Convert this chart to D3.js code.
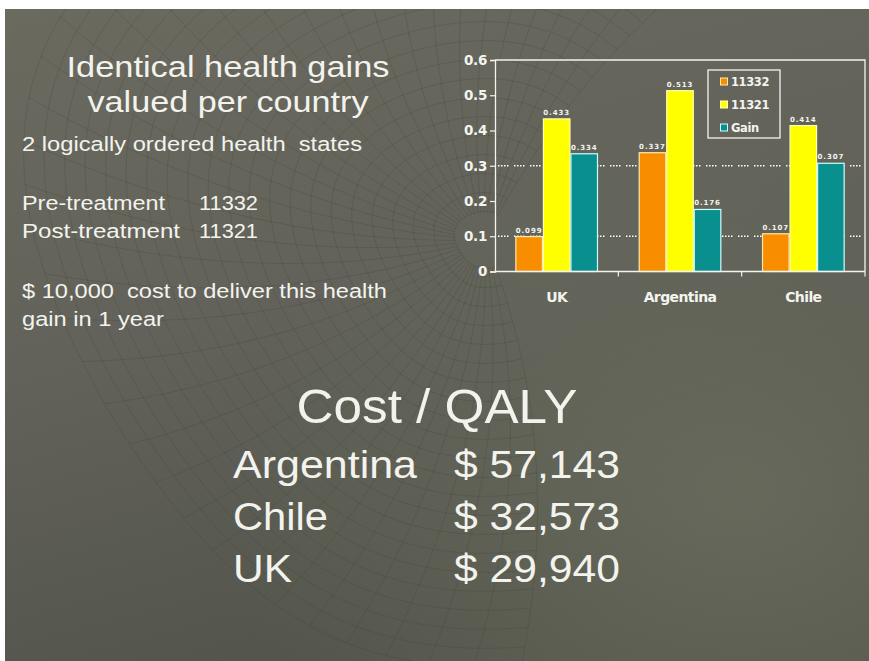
<!DOCTYPE html>
<html>
<head>
<meta charset="utf-8">
<script src="https://cdn.jsdelivr.net/npm/d3@7/dist/d3.min.js"></script>
<style>
  html, body { margin: 0; padding: 0; background: #ffffff; }
  svg { display: block; }
  .slide-text { fill: #f3f3ee; font-family: "Liberation Sans", Arial, sans-serif; }
  .chart-text { fill: #f4f4ee; font-family: "DejaVu Sans", Verdana, sans-serif; font-weight: bold; }
</style>
</head>
<body>
<script>
// ---- data ----
const countries = ["UK", "Argentina", "Chile"];
const seriesNames = ["11332", "11321", "Gain"];
const preValues = [0.099, 0.337, 0.107];   // 11332
const postValues = [0.433, 0.513, 0.414];  // 11321
const gainValues = [0.334, 0.176, 0.307];  // Gain
const valueLabels = [["0.099", "0.433", "0.334"], ["0.337", "0.513", "0.176"], ["0.107", "0.414", "0.307"]];
const yTicks = [0, 0.1, 0.2, 0.3, 0.4, 0.5, 0.6];
const yTickLabels = ["0", "0.1", "0.2", "0.3", "0.4", "0.5", "0.6"];
const gridValues = [0.1, 0.3];
const costCountries = ["Argentina", "Chile", "UK"];
const costValues = ["$ 57,143", "$ 32,573", "$ 29,940"];

const W = 869, H = 661;
const svg = d3.select("body").append("svg").attr("width", W).attr("height", H);
const defs = svg.append("defs");

// ---- slide background ----
const bg = defs.append("linearGradient").attr("id", "bg").attr("x1", 0).attr("y1", 0).attr("x2", 0.35).attr("y2", 1);
bg.append("stop").attr("offset", 0).attr("stop-color", "#6b6a5f");
bg.append("stop").attr("offset", 0.5).attr("stop-color", "#62625a");
bg.append("stop").attr("offset", 1).attr("stop-color", "#53544b");
const glow = defs.append("radialGradient").attr("id", "glow").attr("cx", 0.85).attr("cy", 0.75).attr("r", 0.6);
glow.append("stop").attr("offset", 0).attr("stop-color", "#6a6e5e").attr("stop-opacity", 0.8);
glow.append("stop").attr("offset", 1).attr("stop-color", "#6a6e5e").attr("stop-opacity", 0);

const slide = { x: 5, y: 9, w: W - 5, h: H - 9 };
svg.append("rect").attr("x", slide.x).attr("y", slide.y).attr("width", slide.w).attr("height", slide.h).attr("fill", "url(#bg)");
svg.append("rect").attr("x", slide.x).attr("y", slide.y).attr("width", slide.w).attr("height", slide.h).attr("fill", "url(#glow)");

// decorative warped mesh behind the content
defs.append("clipPath").attr("id", "slideClip").append("rect")
  .attr("x", slide.x).attr("y", slide.y).attr("width", slide.w).attr("height", slide.h);
const mesh = svg.append("g").attr("clip-path", "url(#slideClip)")
  .attr("fill", "none").attr("stroke", "#3b3b33").attr("stroke-opacity", 0.28).attr("stroke-width", 0.8);
const cx = 485, cy = 240;
const angles = d3.range(70, 300, 6).map(a => a * Math.PI / 180);
const radii = d3.range(30, 460, 20);
const warp = (r, a) => [cx + r * Math.cos(a) * (1 + 0.12 * Math.sin(a * 2)), cy + r * Math.sin(a) * 0.95];
const lineGen = d3.line().curve(d3.curveBasis);
angles.forEach(a => {
  mesh.append("path").attr("d", lineGen(radii.map(r => warp(r, a + r * 0.0006))));
});
radii.forEach(r => {
  mesh.append("path").attr("d", lineGen(d3.range(70, 300, 3).map(d => warp(r, d * Math.PI / 180 + r * 0.0006))));
});

// ---- text helper: fixed size, fitted to a measured run length ----
const txt = svg.append("g").attr("class", "slide-text");
function put(str, x, yb, size, len, anchor) {
  return txt.append("text").attr("x", x).attr("y", yb).attr("font-size", size)
    .attr("text-anchor", anchor || "start").attr("xml:space", "preserve")
    .attr("textLength", len).attr("lengthAdjust", "spacingAndGlyphs").text(str);
}

// ---- left text block ----
put("Identical health gains", 228, 77, 30, 323, "middle");
put("valued per country", 228, 112, 30, 281, "middle");
put("2 logically ordered health  states", 22, 151, 20, 340);
put("Pre-treatment", 22, 210, 20, 143);
put("11332", 199, 210, 20, 59);
put("Post-treatment", 22, 238, 20, 158);
put("11321", 199, 238, 20, 59);
put("$ 10,000  cost to deliver this health", 22, 298, 20, 365);
put("gain in 1 year", 22, 326, 20, 142);

// ---- cost per QALY block ----
put("Cost / QALY", 437, 423, 48, 281, "middle");
const costNameLen = [184, 95, 59];
costCountries.forEach((c, i) => {
  put(c, 233, 478 + i * 52, 39, costNameLen[i]);
  put(costValues[i], 454, 478 + i * 52, 39, 166);
});

// ---- bar chart ----
const plot = { left: 495, right: 865, top: 60, bottom: 271.5 };
const y = d3.scaleLinear().domain([0, 0.6]).range([plot.bottom, plot.top]);
const x0 = d3.scaleBand().domain(countries).range([plot.left, plot.right]).paddingInner(0.33).paddingOuter(0.165);
const x1 = d3.scaleBand().domain(seriesNames).range([0, x0.bandwidth()]);
const fills = { "11332": "#f98d00", "11321": "#ffff00", "Gain": "#0a8f8f" };
const strokes = { "11332": "#ffe9a8", "11321": "#ffffb0", "Gain": "#c8ffff" };
const seriesValues = [preValues, postValues, gainValues];

const chart = svg.append("g");

// dotted gridlines
chart.selectAll("line.grid").data(gridValues).join("line").attr("class", "grid")
  .attr("x1", plot.left + 3).attr("x2", plot.right).attr("y1", d => y(d)).attr("y2", d => y(d))
  .attr("stroke", "#ffffff").attr("stroke-width", 1.3)
  .attr("stroke-dasharray", "1.5,1.5,1.5,1.5,1.5,1.5,1.5,5.5");

// plot frame (top and right edges)
chart.append("path")
  .attr("d", `M${plot.left},${plot.top}H${plot.right}V${plot.bottom}`)
  .attr("fill", "none").attr("stroke", "#f4f4ee").attr("stroke-width", 1.3);

// bars
const groups = chart.selectAll("g.country").data(countries).join("g")
  .attr("transform", d => `translate(${x0(d)},0)`);
groups.each(function (c, ci) {
  const g = d3.select(this);
  seriesNames.forEach((s, si) => {
    const v = seriesValues[si][ci];
    g.append("rect")
      .attr("x", x1(s) + 0.5).attr("width", x1.bandwidth() - 1)
      .attr("y", y(v)).attr("height", y(0) - y(v))
      .attr("fill", fills[s]).attr("stroke", strokes[s]).attr("stroke-width", 1.2);
    g.append("text").attr("class", "chart-text")
      .attr("x", x1(s) + x1.bandwidth() / 2).attr("y", y(v) - 4)
      .attr("text-anchor", "middle").attr("font-size", 7).attr("font-weight", "normal")
      .attr("letter-spacing", 0.9).attr("fill", "#f0f0e8").text(valueLabels[ci][si]);
  });
});

// y axis
const yAxis = d3.axisLeft(y).tickValues(yTicks).tickFormat((d, i) => yTickLabels[i]).tickSize(5).tickPadding(3);
const yG = chart.append("g").attr("transform", `translate(${plot.left},0)`).call(yAxis);
yG.select(".domain").attr("stroke", "#f4f4ee").attr("stroke-width", 1.3);
yG.selectAll(".tick line").attr("stroke", "#f4f4ee").attr("stroke-width", 1.2);
yG.selectAll(".tick text").attr("class", "chart-text").attr("font-size", 13.5).attr("letter-spacing", -0.3);

// x axis with ticks at category boundaries
const xG = chart.append("g").attr("transform", `translate(0,${plot.bottom})`);
xG.append("line").attr("x1", plot.left).attr("x2", plot.right).attr("stroke", "#f4f4ee").attr("stroke-width", 1.3);
const boundaries = countries.map(c => x0(c) - x0.step() * x0.paddingInner() / 2 + x0.step());
xG.selectAll("line.tick").data(boundaries).join("line").attr("class", "tick")
  .attr("x1", d => d).attr("x2", d => d).attr("y1", 0).attr("y2", 5)
  .attr("stroke", "#f4f4ee").attr("stroke-width", 1.2);
xG.selectAll("text").data(countries).join("text").attr("class", "chart-text")
  .attr("x", d => x0(d) + x0.bandwidth() / 2).attr("y", 30)
  .attr("text-anchor", "middle").attr("font-size", 14).attr("letter-spacing", -0.6).text(d => d);

// legend
const legend = chart.append("g").attr("transform", "translate(708,70)");
legend.append("rect").attr("width", 72).attr("height", 68)
  .attr("fill", "none").attr("stroke", "#f4f4ee").attr("stroke-width", 1.3);
seriesNames.forEach((s, i) => {
  const ly = 11.5 + i * 23;
  legend.append("rect").attr("x", 12.5).attr("y", ly - 3.5).attr("width", 7).attr("height", 7)
    .attr("fill", fills[s]).attr("stroke", strokes[s]).attr("stroke-width", 1);
  legend.append("text").attr("class", "chart-text").attr("x", 23).attr("y", ly + 4)
    .attr("font-size", 11.5).attr("letter-spacing", -0.4).text(s);
});
</script>
</body>
</html>
